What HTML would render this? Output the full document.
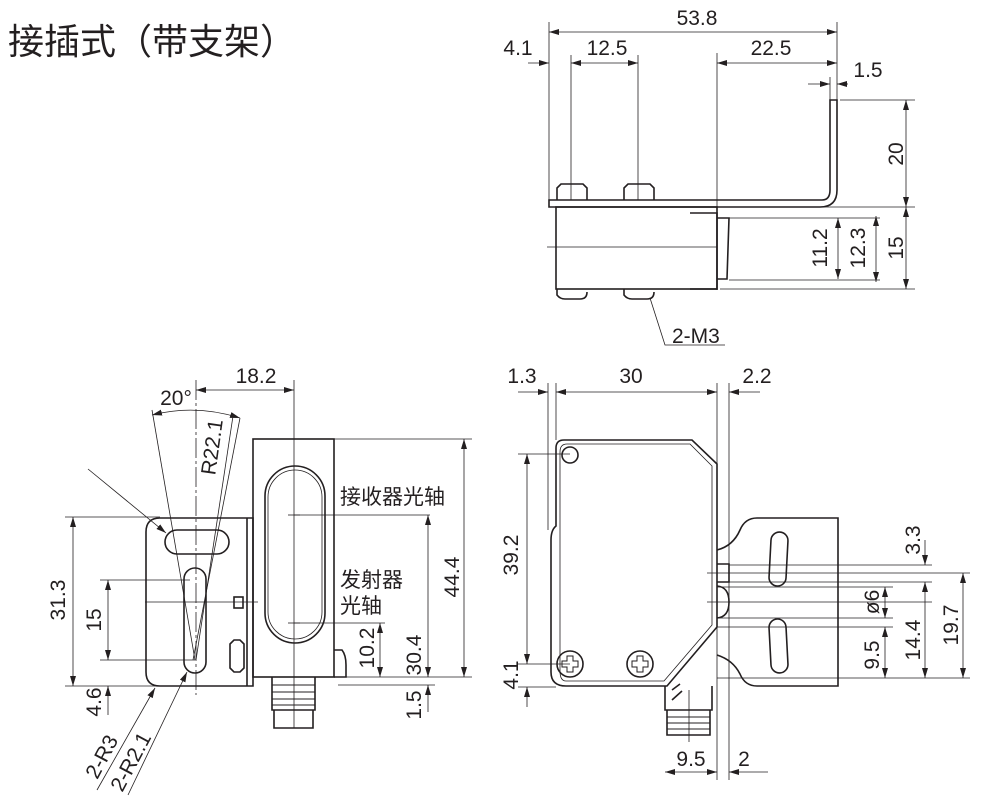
<!DOCTYPE html>
<html><head><meta charset="utf-8"><style>
html,body{margin:0;padding:0;background:#fff;}
svg{display:block;}
text{font-family:"Liberation Sans","Noto Sans CJK SC",sans-serif;fill:#231f20;}
.n{font-size:21px;}
.cj{font-size:21px;font-family:"Noto Sans CJK SC","WenQuanYi Zen Hei",sans-serif;}
</style></head><body>
<svg width="993" height="806" viewBox="0 0 993 806" xmlns="http://www.w3.org/2000/svg">
<defs>
<marker id="a" viewBox="0 0 10 6" refX="10" refY="3" markerWidth="10" markerHeight="6" markerUnits="userSpaceOnUse" orient="auto-start-reverse"><path d="M0,0L10,3L0,6z" fill="#231f20"/></marker>
</defs>
<text x="8" y="54" style="font-size:36px;font-family:'Noto Sans CJK SC',sans-serif">接插式（带支架）</text>

<g stroke="#231f20" fill="none" stroke-width="0.8">
<!-- TOP VIEW -->
<line x1="549" y1="22" x2="549" y2="205"/><line x1="837" y1="22" x2="837" y2="100"/>
<line x1="549" y1="32" x2="837" y2="32" marker-start="url(#a)" marker-end="url(#a)"/>
<line x1="528" y1="63" x2="549" y2="63" marker-end="url(#a)"/>
<line x1="571" y1="63" x2="638" y2="63" marker-start="url(#a)" marker-end="url(#a)"/>
<line x1="571" y1="55" x2="571" y2="200"/><line x1="638" y1="55" x2="638" y2="200"/>
<line x1="717" y1="53" x2="717" y2="290"/>
<line x1="717" y1="63" x2="837" y2="63" marker-start="url(#a)" marker-end="url(#a)"/>
<line x1="808" y1="84" x2="830" y2="84" marker-end="url(#a)"/><line x1="848" y1="84" x2="837" y2="84" marker-end="url(#a)"/>
<line x1="830" y1="77" x2="830" y2="100"/>
<g stroke-width="1.6">
<path d="M830,100 H837 V190 Q837,207 820,207 H549 V200 H822 Q830,200 830,190 Z"/>
<path d="M557,200 V188 L561,184 H583 L587,188 V200"/><path d="M624,200 V188 L628,184 H650 L654,188 V200"/>
<rect x="556" y="207" width="161" height="82"/>
<path d="M690,213 H717 V289 H690"/>
<path d="M717,218 H729 L727,279 H717"/>
<path d="M557,289 V295 Q560,299 565,299 H580 Q587,299 587,292"/><path d="M624,289 V295 Q627,299 632,299 H647 Q654,299 654,292"/>
</g>
<line x1="547" y1="247" x2="717" y2="247"/>
<path d="M650,298 L665,345 H725"/>
<line x1="840" y1="100" x2="915" y2="100"/><line x1="723" y1="207" x2="915" y2="207"/>
<line x1="729" y1="218" x2="880" y2="218"/><line x1="729" y1="280" x2="880" y2="280"/><line x1="720" y1="289" x2="915" y2="289"/>
<line x1="906" y1="100" x2="906" y2="207" marker-start="url(#a)" marker-end="url(#a)"/>
<line x1="906" y1="207" x2="906" y2="289" marker-start="url(#a)" marker-end="url(#a)"/>
<line x1="876" y1="216" x2="876" y2="282" marker-start="url(#a)" marker-end="url(#a)"/>
<line x1="838" y1="218" x2="838" y2="279" marker-start="url(#a)" marker-end="url(#a)"/>

<!-- LEFT VIEW -->
<line x1="196" y1="380" x2="196" y2="695" stroke-dasharray="20,3,3,3"/>
<line x1="294" y1="380" x2="294" y2="728"/>
<line x1="196" y1="390" x2="294" y2="390" marker-start="url(#a)" marker-end="url(#a)"/>
<line x1="152" y1="410" x2="195" y2="660"/><line x1="240" y1="418" x2="193" y2="660"/><line x1="233" y1="416" x2="196" y2="660"/>
<path d="M152,415 Q196,404 240,418" marker-start="url(#a)" marker-end="url(#a)"/>
<line x1="88" y1="469" x2="166" y2="533" marker-end="url(#a)"/>
<g stroke-width="1.6">
<path d="M160,518 H253 V686 H160 Q146,686 146,672 V532 Q146,518 160,518 Z"/>
<line x1="247" y1="518" x2="247" y2="686"/>
<rect x="165" y="530" width="64" height="24" rx="12"/>
<rect x="184" y="568" width="22" height="105" rx="11"/>
<rect x="234" y="597" width="9" height="11"/>
<path d="M230,644 L234,640 H240 L244,644 V668 L240,672 H234 L230,668 Z"/>
<rect x="253" y="439" width="81" height="238"/>
<rect x="265" y="466" width="60" height="177" rx="30"/>
<rect x="268" y="470" width="54" height="169" rx="27" stroke-width="0.8"/>
<path d="M334,650 H342 Q346,655 346,665 V677 H334"/>
<path d="M272,677 V710 H315 V677"/><path d="M274,710 V728 H313 V710"/>
<path d="M272,685 H315 M272,692 H315 M272,699 H315 M272,705 H315" stroke-width="1"/>
</g>
<line x1="145" y1="602" x2="258" y2="602"/>
<line x1="288" y1="515" x2="300" y2="515"/><line x1="288" y1="623" x2="300" y2="623"/>
<line x1="65" y1="517" x2="160" y2="517"/><line x1="65" y1="686" x2="253" y2="686"/>
<line x1="73" y1="517" x2="73" y2="686" marker-start="url(#a)" marker-end="url(#a)"/>
<line x1="100" y1="580" x2="190" y2="580"/><line x1="100" y1="660" x2="195" y2="660"/>
<line x1="108" y1="580" x2="108" y2="660" marker-start="url(#a)" marker-end="url(#a)"/>
<line x1="108" y1="715" x2="108" y2="686" marker-end="url(#a)"/>
<line x1="155" y1="688" x2="97" y2="790" marker-start="url(#a)"/>
<line x1="187" y1="672" x2="128" y2="795" marker-start="url(#a)"/>
<line x1="334" y1="439" x2="472" y2="439"/><line x1="345" y1="677" x2="472" y2="677"/>
<line x1="464" y1="439" x2="464" y2="677" marker-start="url(#a)" marker-end="url(#a)"/>
<line x1="294" y1="515" x2="430" y2="515"/>
<line x1="428" y1="515" x2="428" y2="677" marker-start="url(#a)" marker-end="url(#a)"/>
<line x1="294" y1="623" x2="385" y2="623"/>
<line x1="380" y1="623" x2="380" y2="677" marker-start="url(#a)" marker-end="url(#a)"/>
<line x1="338" y1="685" x2="435" y2="685"/>
<line x1="428" y1="712" x2="428" y2="685" marker-end="url(#a)"/>

<!-- RIGHT VIEW -->
<line x1="548" y1="383" x2="548" y2="530"/><line x1="556" y1="383" x2="556" y2="440"/>
<line x1="717" y1="383" x2="717" y2="780"/><line x1="729" y1="383" x2="729" y2="780"/>
<line x1="518" y1="392" x2="548" y2="392" marker-end="url(#a)"/>
<line x1="556" y1="392" x2="717" y2="392" marker-start="url(#a)" marker-end="url(#a)"/>
<line x1="760" y1="392" x2="729" y2="392" marker-end="url(#a)"/>
<g stroke-width="1.6">
<path d="M564,440 H692 L717,464 V627 L667,686 H566 Q551,686 551,672 V540 Q551,530 556,526 V448 Q556,440 564,440"/>
<path d="M567,444 H690 L712,466 V625 L664,681 H566 Q560,681 560,671 V452 Q560,444 567,444" stroke-width="0.8"/>
<circle cx="570" cy="455" r="8"/>
<circle cx="570" cy="664" r="13"/><circle cx="640" cy="664" r="13"/>
<path d="M567,656 h6 v5 h5 v6 h-5 v5 h-6 v-5 h-5 v-6 h5 z M637,656 h6 v5 h5 v6 h-5 v5 h-6 v-5 h-5 v-6 h5 z" stroke-width="1"/>
<path d="M717,550 Q733,546 740,530 Q745,518 757,518 H838 V686 H757 Q745,686 740,674 Q733,660 717,655"/>
<rect x="770" y="532" width="17" height="54" rx="8.5" transform="rotate(3 778 559)"/>
<rect x="770" y="619" width="17" height="54" rx="8.5" transform="rotate(-3 778 646)"/>
<path d="M717,564 H729 V582 H717"/><path d="M717,586 Q729,587 729,602 Q729,617 717,618"/>
<path d="M665,686 V710 H712 V686"/><path d="M667,710 V735 H710 V710"/>
<path d="M667,717 H710 M667,723 H710 M667,729 H710" stroke-width="1"/>
<path d="M672,690 L680,684 M672,700 L682,691"/>
</g>
<line x1="729" y1="565" x2="932" y2="565"/><line x1="707" y1="573" x2="970" y2="573"/>
<line x1="717" y1="582" x2="932" y2="582"/><line x1="717" y1="587" x2="893" y2="587"/>
<line x1="707" y1="602" x2="932" y2="602"/><line x1="717" y1="618" x2="893" y2="618"/>
<line x1="717" y1="627" x2="893" y2="627"/><line x1="717" y1="678" x2="970" y2="678"/>
<line x1="925" y1="540" x2="925" y2="565" marker-end="url(#a)"/>
<line x1="925" y1="582" x2="925" y2="678" marker-start="url(#a)" marker-end="url(#a)"/>
<line x1="885" y1="587" x2="885" y2="618" marker-start="url(#a)" marker-end="url(#a)"/>
<line x1="885" y1="627" x2="885" y2="678" marker-start="url(#a)" marker-end="url(#a)"/>
<line x1="963" y1="573" x2="963" y2="678" marker-start="url(#a)" marker-end="url(#a)"/>
<line x1="518" y1="454" x2="570" y2="454"/><line x1="518" y1="664" x2="570" y2="664"/><line x1="518" y1="687" x2="556" y2="687"/>
<line x1="527" y1="454" x2="527" y2="664" marker-start="url(#a)" marker-end="url(#a)"/>
<line x1="527" y1="707" x2="527" y2="687" marker-end="url(#a)"/>
<line x1="689" y1="690" x2="689" y2="742"/>
<line x1="665" y1="772" x2="717" y2="772" marker-start="url(#a)" marker-end="url(#a)"/>
<line x1="768" y1="772" x2="729" y2="772" marker-end="url(#a)"/>
</g>

<g class="n">
<text x="697" y="25" text-anchor="middle">53.8</text>
<text x="518" y="55" text-anchor="middle">4.1</text>
<text x="607" y="55" text-anchor="middle">12.5</text>
<text x="771" y="55" text-anchor="middle">22.5</text>
<text x="868" y="77" text-anchor="middle">1.5</text>
<text x="672" y="343">2-M3</text>
<text transform="translate(903,154) rotate(-90)" text-anchor="middle">20</text>
<text transform="translate(903,248) rotate(-90)" text-anchor="middle">15</text>
<text transform="translate(865,248) rotate(-90)" text-anchor="middle">12.3</text>
<text transform="translate(827,248) rotate(-90)" text-anchor="middle">11.2</text>

<text x="256" y="383" text-anchor="middle">18.2</text>
<text x="176" y="405" text-anchor="middle">20°</text>
<text transform="translate(219,448) rotate(-82)" text-anchor="middle">R22.1</text>
<text transform="translate(65,600) rotate(-90)" text-anchor="middle">31.3</text>
<text transform="translate(101,620) rotate(-90)" text-anchor="middle">15</text>
<text transform="translate(101,702) rotate(-90)" text-anchor="middle">4.6</text>
<text transform="translate(108,760) rotate(-62)" text-anchor="middle">2-R3</text>
<text transform="translate(137,765) rotate(-62)" text-anchor="middle">2-R2.1</text>
<text transform="translate(459,577) rotate(-90)" text-anchor="middle">44.4</text>
<text transform="translate(421,655) rotate(-90)" text-anchor="middle">30.4</text>
<text transform="translate(374,648) rotate(-90)" text-anchor="middle">10.2</text>
<text transform="translate(421,705) rotate(-90)" text-anchor="middle">1.5</text>

<text x="522" y="383" text-anchor="middle">1.3</text>
<text x="631" y="383" text-anchor="middle">30</text>
<text x="757" y="383" text-anchor="middle">2.2</text>
<text transform="translate(518,555) rotate(-90)" text-anchor="middle">39.2</text>
<text transform="translate(518,675) rotate(-90)" text-anchor="middle">4.1</text>
<text transform="translate(920,540) rotate(-90)" text-anchor="middle">3.3</text>
<text transform="translate(879,602) rotate(-90)" text-anchor="middle">ø6</text>
<text transform="translate(879,655) rotate(-90)" text-anchor="middle">9.5</text>
<text transform="translate(920,640) rotate(-90)" text-anchor="middle">14.4</text>
<text transform="translate(958,625) rotate(-90)" text-anchor="middle">19.7</text>
<text x="691" y="766" text-anchor="middle">9.5</text>
<text x="744" y="766" text-anchor="middle">2</text>
</g>
<text class="cj" x="340" y="504">接收器光轴</text>
<text class="cj" x="340" y="587">发射器</text>
<text class="cj" x="340" y="613">光轴</text>
</svg>
</body></html>
